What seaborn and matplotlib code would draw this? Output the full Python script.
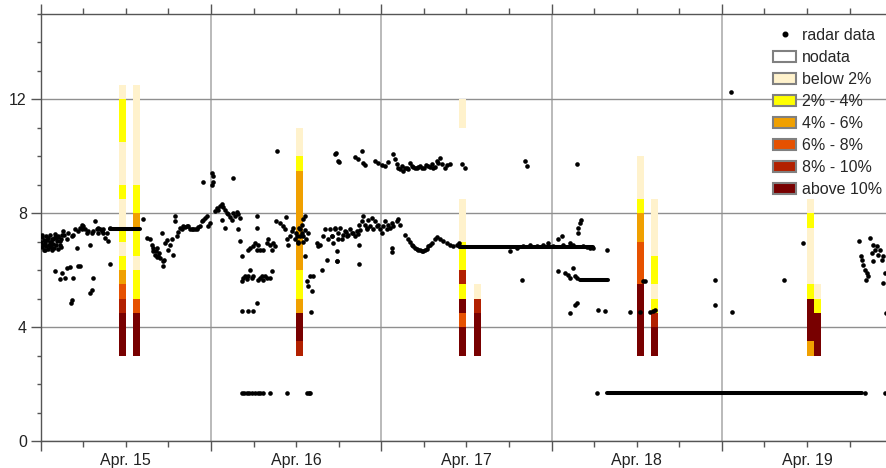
import numpy as np
import pandas as pd
import matplotlib
matplotlib.use("Agg")
import matplotlib.pyplot as plt
from matplotlib.patches import Patch
from matplotlib.lines import Line2D
from matplotlib.ticker import FuncFormatter, MultipleLocator
import seaborn as sns

# ---- data (time in hours since Apr. 15 00:00) ----
day_labels = ["Apr. 15", "Apr. 16", "Apr. 17", "Apr. 18", "Apr. 19"]
category_labels = ["nodata", "below 2%", "2% - 4%", "4% - 6%", "6% - 8%", "8% - 10%", "above 10%"]
category_colors = ["#FFFFFF", "#FFF2CC", "#FFFF00", "#F0A000", "#E65100", "#B22000", "#780000"]

bar_start_hours = [11, 13, 36, 59, 61, 84, 86, 108, 109]
bar_base = 3.0
bin_height = 0.5
# category code per 0.5 bin, from 3.0 upward (0 = nodata)
bar_codes = [
    [6, 6, 6, 5, 4, 3, 2, 1, 2, 1, 1, 2, 1, 1, 1, 2, 2, 2, 1],
    [6, 6, 6, 4, 2, 2, 1, 2, 2, 3, 2, 2, 1, 1, 1, 1, 1, 1, 1],
    [5, 6, 6, 3, 2, 2, 3, 3, 3, 3, 3, 3, 3, 2, 1, 1],
    [6, 6, 4, 6, 2, 5, 2, 2, 1, 1, 1, 0, 0, 0, 0, 0, 1, 1],
    [6, 6, 6, 5, 1],
    [6, 6, 6, 6, 6, 4, 4, 4, 3, 3, 2, 1, 1, 1],
    [6, 6, 5, 2, 1, 2, 2, 1, 1, 1, 1],
    [3, 6, 6, 6, 2, 1, 1, 1, 1, 2, 1],
    [6, 6, 6, 2, 1],
]

radar_hours = [
    0.05, 0.15, 0.25, 0.3, 0.45, 0.5, 0.6, 0.7, 0.8, 0.9, 1.0, 1.05, 1.15, 1.3, 1.4, 1.5, 1.6, 1.7, 1.8, 1.9,
    2.0, 2.1, 2.25, 2.4, 2.5, 2.65, 2.8, 2.9, 3.0, 0.2, 0.65, 1.25, 1.95,
    2.15, 2.48, 3.19, 3.28, 3.66, 4.36, 4.6, 5.07, 5.3, 5.54, 5.77, 6.0, 6.24, 6.48, 6.95, 7.42, 7.65, 7.88,
    8.12, 8.35, 8.59, 8.82, 9.06, 9.29, 9.53, 9.76, 4.83, 5.77, 6.71, 7.18, 8.12, 8.82, 2.72, 3.89, 1.31, 1.54,
    2.01, 2.72, 2.95, 3.42, 3.66, 4.13, 4.6, 5.3, 5.54, 4.22, 4.46, 6.95, 7.18, 7.32, 9.76,
    14.46, 14.93, 15.4, 15.63, 15.87, 16.1, 16.34, 16.57, 16.81, 17.04, 17.28, 17.51, 17.75, 17.98, 18.22,
    18.45, 18.69, 18.92, 18.92, 19.16, 19.39, 15.78, 16.25, 16.72, 17.18, 17.37, 16.43,
    19.63, 19.86, 20.1, 20.33, 20.57, 20.8, 21.04, 21.27, 21.51, 21.74, 21.98, 22.21, 22.45, 22.68, 22.92,
    23.15, 23.39, 23.62, 23.86,
    22.92, 24.1, 24.2, 24.32, 24.23, 27.14,
    24.56, 24.79, 25.03, 25.26, 25.5, 25.73, 25.97, 25.5, 25.97, 26.2, 26.44, 26.67, 26.91, 27.14, 27.38,
    27.61, 27.85, 28.08, 27.85, 28.08, 28.32,
    28.41, 28.55, 28.79, 29.02, 29.26, 29.49, 29.73, 29.96, 30.67, 30.9, 31.13, 31.37, 31.6, 31.84, 32.31, 32.54,
    28.32, 29.26, 29.96, 30.43,
    29.26, 29.49, 29.96, 30.2, 30.43, 30.67, 30.9, 31.37, 31.84, 32.07, 32.31, 32.54, 32.78, 33.01,
    30.43, 30.43, 33.25, 33.15, 33.72, 34.19, 34.42, 34.56, 34.66, 34.89, 35.13, 35.36, 35.6, 35.83, 36.07,
    36.3, 36.54, 36.77, 37.01, 37.24, 37.48, 37.71, 37.95, 38.18, 38.04, 38.41, 38.88, 39.12, 39.35, 39.59,
    39.82, 40.06, 40.29, 40.53, 40.76, 41.0, 41.23, 41.47, 41.7, 41.94, 41.61, 41.84,
    36.0, 36.2, 36.4, 36.6, 36.8, 37.0, 37.2, 37.4, 37.6, 36.9, 37.3,
    28.3, 28.7, 29.1, 29.4, 29.8, 30.2, 30.6, 30.9, 31.3, 32.3, 34.7, 37.5, 37.8, 38.0,
    41.46, 42.07, 44.28, 44.75, 45.22, 45.46, 45.69, 47.1, 47.57, 48.04, 48.51, 48.98, 49.68, 49.92, 50.15,
    50.39, 50.62, 50.86, 51.09, 51.56, 52.03, 52.27, 52.74, 53.21, 53.68, 54.62, 55.09, 55.56, 55.79, 56.26,
    56.5, 56.97, 57.67, 59.31, 59.78, 68.24, 68.47, 75.61,
    51.3, 51.8, 52.5, 53.0, 53.5, 54.0, 54.3, 54.9, 55.3, 56.0, 57.3,
    41.0, 41.46, 41.93, 42.17, 42.4, 42.87, 43.11, 43.34, 43.58, 43.81, 44.28, 44.52, 44.89, 45.22, 45.46,
    45.69, 45.93, 46.16, 46.4, 46.63, 46.87, 47.1, 47.34, 47.81, 48.04, 48.28, 48.51, 48.75, 48.98, 49.21,
    49.45, 50.15, 50.39, 50.62,
    42.6, 43.0, 44.0, 44.7, 45.0, 46.0, 47.6, 49.7,
    41.7, 41.7, 44.89, 44.89, 49.45, 49.45,
    51.33, 51.8, 52.27, 52.74, 53.21, 53.68, 54.15, 54.62, 55.09, 55.56, 55.79, 56.26, 56.73, 57.2, 57.67,
    58.14, 58.61, 52.0, 52.5, 53.0, 53.4, 53.9, 54.4, 54.9, 58.9, 59.0,
    66.12, 67.06, 68.0, 68.94, 69.88, 70.82, 71.52, 72.23, 72.93, 73.4, 73.64, 74.58, 75.05, 75.75, 75.75,
    75.99, 76.08, 76.46, 76.93, 77.4, 77.87, 79.74,
    67.77, 72.93, 73.87, 74.34, 74.58, 75.05, 75.28, 75.52,
    74.58, 75.28, 75.52, 78.57, 79.51, 83.0, 84.45, 84.92, 85.15, 85.85, 86.32, 86.56,
    95.01, 95.01, 97.46, 104.74, 107.46, 97.26, 119.1,
    115.35, 116.86, 117.23, 117.56, 117.8, 118.03, 118.26, 118.5, 118.73, 115.68, 115.92, 116.15, 116.29,
    116.62, 117.09, 118.64, 118.97, 116.39, 115.54, 117.33,
    78.34, 116.15, 118.97,
]
radar_values = [
    7.0, 6.8, 7.15, 6.9, 7.05, 6.72, 6.95, 7.2, 6.85, 7.05, 6.75, 7.12, 6.9, 7.25, 6.8, 7.0, 6.72, 7.1, 6.92, 6.78,
    7.15, 6.88, 7.02, 6.74, 7.18, 6.9, 7.08, 6.82, 7.22, 7.25, 6.7, 6.98, 7.28,
    7.14, 7.19, 7.39, 7.22, 7.08, 7.19, 7.25, 6.78, 7.37, 7.49, 7.6, 7.55, 7.43, 7.31, 6.87, 7.37, 7.72, 7.43,
    7.31, 7.43, 7.37, 7.31, 7.14, 7.31, 7.02, 7.49, 7.43, 7.43, 7.37, 7.31, 7.49, 7.43, 7.02, 7.31, 6.84, 7.08,
    5.96, 5.69, 5.9, 5.73, 6.08, 6.11, 5.73, 6.16, 6.16, 4.85, 4.94, 5.2, 5.32, 5.73, 6.23,
    7.8, 7.14, 7.08, 6.9, 6.67, 6.55, 6.78, 6.49, 6.43, 7.29, 6.31, 6.96, 7.05, 6.72, 6.9,
    7.08, 6.55, 7.9, 7.72, 7.19, 7.34, 6.78, 6.67, 6.61, 6.16, 6.37, 6.47,
    7.49, 7.43, 7.55, 7.53, 7.57, 7.55, 7.43, 7.43, 7.45, 7.43, 7.43, 7.53, 7.55, 7.72, 7.78,
    7.84, 7.9, 7.55, 7.67,
    9.11, 9.01, 9.42, 9.31, 9.1, 9.25,
    8.07, 8.19, 8.13, 8.27, 8.31, 8.23, 8.13, 7.78, 7.49, 8.02, 7.96, 7.87, 7.78, 8.02, 7.9,
    8.04, 7.96, 7.84, 7.43, 7.02, 6.51,
    5.61, 5.73, 5.78, 5.69, 5.78, 6.02, 5.73, 5.78, 5.67, 5.73, 5.78, 5.67, 5.78, 5.73, 5.73, 5.96,
    4.55, 4.55, 4.55, 4.85,
    6.72, 6.78, 6.84, 6.96, 6.72, 6.9, 6.72, 6.72, 6.96, 7.08, 6.9, 6.72, 6.96, 6.84,
    7.9, 7.49, 10.19, 7.72, 7.66, 7.55, 7.43, 7.87, 7.08, 6.9, 7.19, 7.37, 7.49, 7.08, 7.19,
    6.96, 7.43, 7.31, 7.19, 6.49, 5.61, 5.43, 5.78, 5.26, 4.52, 5.78, 6.96, 6.84, 6.9, 6.02,
    7.19, 7.43, 6.37, 7.08, 7.43, 7.19, 6.96, 7.49, 6.31, 7.08, 10.1, 9.83,
    7.3, 7.0, 7.5, 7.2, 7.6, 7.0, 7.4, 7.1, 7.3, 7.8, 7.9,
    1.68, 1.68, 1.68, 1.68, 1.68, 1.68, 1.68, 1.68, 1.68, 1.68, 1.68, 1.68, 1.68, 1.68,
    10.07, 9.81, 9.99, 9.9, 10.19, 9.78, 9.68, 9.83, 9.78, 9.68, 9.66, 9.8, 10.07, 9.9, 9.72,
    9.6, 9.54, 9.66, 9.48, 9.6, 9.78, 9.66, 9.6, 9.64, 9.6, 9.66, 9.72, 9.64, 9.83, 9.95,
    9.72, 9.6, 9.72, 9.72, 9.6, 9.83, 9.66, 9.72,
    9.58, 9.55, 9.62, 9.58, 9.65, 9.6, 9.7, 9.62, 9.6, 9.75, 9.68,
    7.19, 7.43, 7.31, 7.49, 7.08, 7.37, 7.19, 7.25, 7.43, 7.31, 7.19, 7.37, 7.6, 7.72, 7.9,
    7.6, 7.43, 7.78, 7.55, 7.84, 7.43, 7.72, 7.55, 7.43, 7.31, 7.55, 7.72, 7.43, 7.6, 7.49,
    7.66, 7.72, 7.8, 7.6,
    7.25, 7.35, 7.3, 7.28, 7.4, 7.5, 7.6, 7.55,
    6.67, 6.31, 6.87, 6.23, 6.78, 6.63,
    7.22, 7.08, 6.9, 6.78, 6.72, 6.67, 6.7, 6.84, 6.96, 7.1, 7.17, 7.08, 7.02, 6.96, 6.9,
    6.84, 6.87, 7.0, 6.85, 6.75, 6.7, 6.68, 6.75, 6.9, 6.85, 6.95,
    6.67, 6.78, 6.84, 6.9, 6.84, 6.9, 6.96, 6.84, 7.08, 7.19, 6.9, 6.96, 6.9, 7.31, 7.49,
    7.66, 7.76, 6.84, 6.82, 6.78, 6.78, 6.7,
    5.67, 5.96, 5.9, 5.84, 5.73, 6.08, 5.78, 5.73,
    4.49, 4.79, 4.85, 4.61, 4.55, 4.52, 4.52, 5.61, 5.61, 4.52, 4.55, 4.59,
    5.67, 4.79, 4.52, 5.64, 6.96, 12.25, 4.5,
    7.02, 7.13, 6.9, 6.72, 6.84, 6.55, 6.72, 6.37, 6.49, 6.37, 6.2, 6.02, 5.67,
    5.78, 6.6, 5.55, 5.9, 5.9, 6.49, 6.31,
    1.68, 1.68, 1.68,
]

# densely sampled stretches where the dots merge into a line
run_start_hours = [9.8, 59.1, 76.0, 79.75]
run_end_hours = [14.0, 77.9, 80.0, 115.7]
run_values = [7.43, 6.8, 5.67, 1.68]

# ---- figure ----
sns.set_theme(style="white")
plt.rcParams["font.family"] = ["Liberation Sans", "DejaVu Sans"]

W, H = 886, 468
fig = plt.figure(figsize=(W / 100, H / 100), dpi=100)
left_px, right_px, top_px, bottom_px = 40.7, 892.2, 14.0, 441.0
ax = fig.add_axes([left_px / W, 1 - bottom_px / H, (right_px - left_px) / W, (bottom_px - top_px) / H])

ax.set_xlim(0, 120)
ax.set_ylim(0, 15)

# grid
ax.set_axisbelow(True)
ax.grid(False)
ax.yaxis.grid(True, which="major", color="#8f8f8f", lw=1.0)
ax.xaxis.grid(True, which="major", color="#b4b4b4", lw=1.3)

# stacked category bars
cells = []
for start, codes in zip(bar_start_hours, bar_codes):
    for i, c in enumerate(codes):
        if c > 0:
            cells.append((start, bar_base + i * bin_height, c))
cells = pd.DataFrame(cells, columns=["start", "bottom", "code"])
ax.bar(cells["start"], bin_height, width=1.0, bottom=cells["bottom"], align="edge",
       color=[category_colors[c] for c in cells["code"]], linewidth=0, zorder=2)

# radar data
for s, e, v in zip(run_start_hours, run_end_hours, run_values):
    ax.plot([s, e], [v, v], color="black", lw=2.9, solid_capstyle="round", zorder=3)
sns.scatterplot(x=radar_hours, y=radar_values, s=11, color="black", linewidth=0,
                ax=ax, zorder=4, legend=False)

# axes styling
ax.set_xticks(np.arange(0, 121, 24))
ax.xaxis.set_major_formatter(FuncFormatter(lambda x, p: ""))
minor_x = [h for h in range(6, 120, 6) if h % 24 != 0]
ax.set_xticks(minor_x, minor=True)
ax.xaxis.set_minor_formatter(FuncFormatter(
    lambda x, p: day_labels[int(x // 24)] if abs(x % 24 - 12) < 1e-6 and int(x // 24) < len(day_labels) else ""))
ax.set_yticks([0, 4, 8, 12])
ax.yaxis.set_minor_locator(MultipleLocator(1))

ax.tick_params(axis="x", which="major", length=7, width=1, color="#555555", direction="out",
               top=True, bottom=True)
ax.tick_params(axis="x", which="minor", length=4, width=1, color="#555555", direction="out",
               top=True, bottom=True, pad=4.5, labelsize=11.5, labelcolor="#222222")
ax.tick_params(axis="y", which="major", length=7, width=1, color="#555555", direction="out",
               left=True, pad=3, labelsize=11.5, labelcolor="#222222")
ax.tick_params(axis="y", which="minor", length=3, width=1, color="#555555", direction="out", left=True)

for side in ["left", "bottom", "top"]:
    ax.spines[side].set_color("#555555")
    ax.spines[side].set_linewidth(1.0)
ax.spines["right"].set_visible(False)
ax.set_xlabel("")
ax.set_ylabel("")

# legend
handles = [Line2D([], [], marker="o", ls="none", color="black", markersize=3.3, label="radar data")]
handles += [Patch(facecolor=c, edgecolor="#808080", linewidth=1.5, label=l)
            for c, l in zip(category_colors, category_labels)]
leg = ax.legend(handles=handles, loc="upper left", bbox_to_anchor=(773 / W, 1 - 28 / H),
                bbox_transform=fig.transFigure, frameon=False, fontsize=11.5,
                borderpad=0, borderaxespad=0, handlelength=1.45, handleheight=0.7,
                handletextpad=0.35, labelspacing=0.44)
leg.set_zorder(10)

fig.savefig("out.png", dpi=100)
